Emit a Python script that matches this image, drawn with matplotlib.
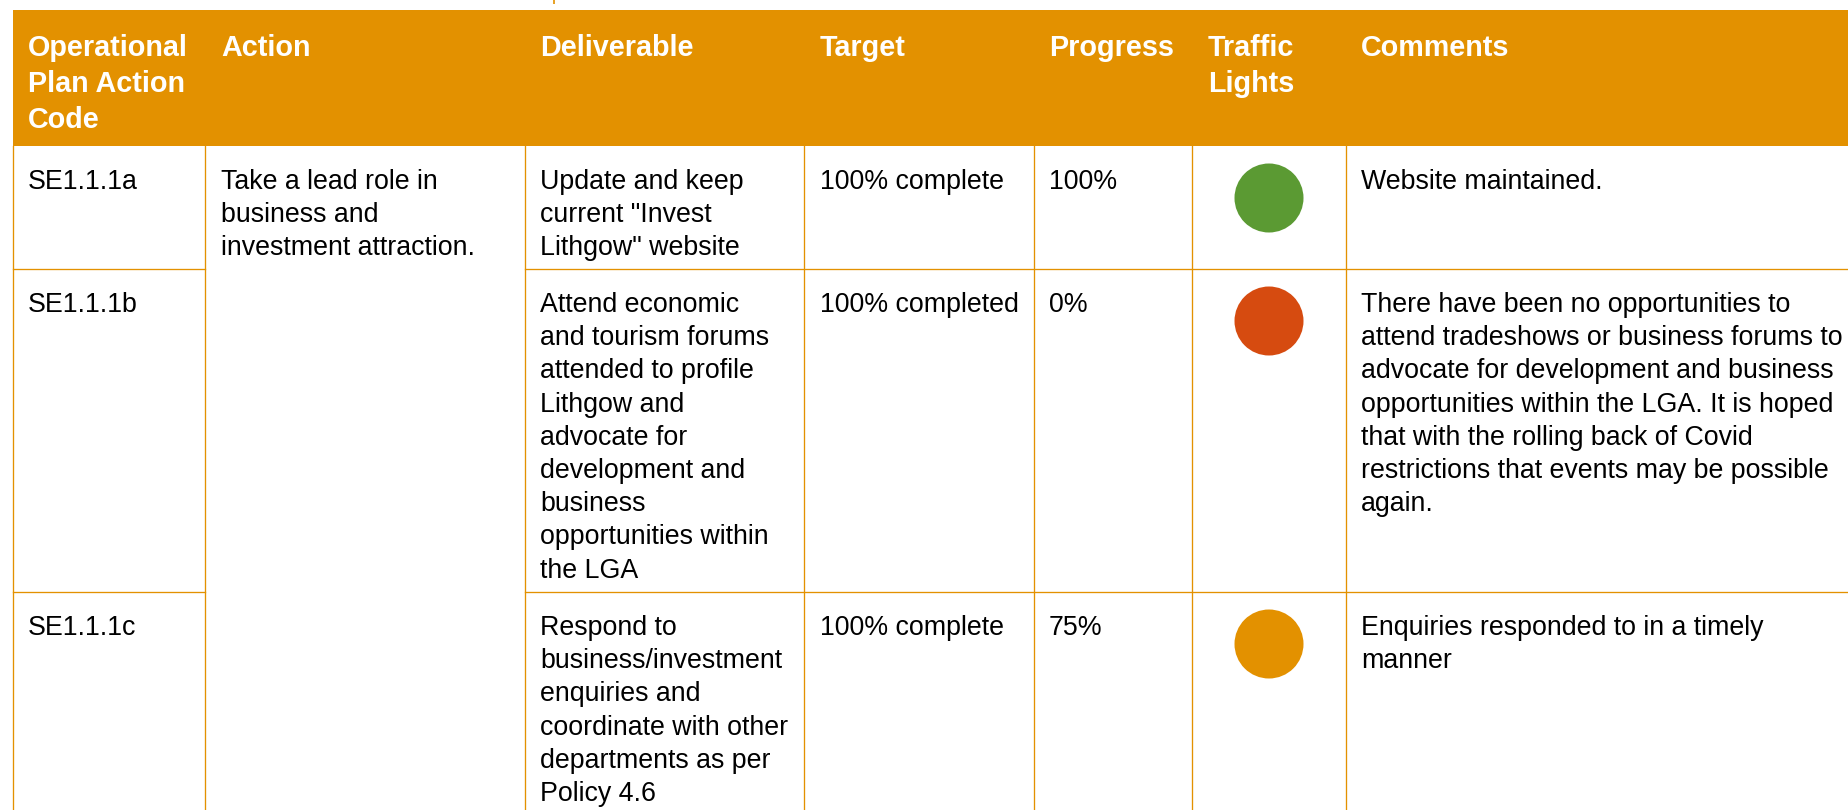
import matplotlib
matplotlib.use("Agg")
import matplotlib.pyplot as plt
from matplotlib.patches import Rectangle, Circle
from matplotlib import font_manager as fm

# ---------------- data ----------------
headers = [["Operational", "Plan Action", "Code"], ["Action"], ["Deliverable"],
           ["Target"], ["Progress"], ["Traffic", "Lights"], ["Comments"]]
codes = ["SE1.1.1a", "SE1.1.1b", "SE1.1.1c"]
action_lines = ["Take a lead role in", "business and", "investment attraction."]
deliverables = [
    ["Update and keep", "current \"Invest", "Lithgow\" website"],
    ["Attend economic", "and tourism forums", "attended to profile", "Lithgow and",
     "advocate for", "development and", "business", "opportunities within", "the LGA"],
    ["Respond to", "business/investment", "enquiries and", "coordinate with other",
     "departments as per", "Policy 4.6"],
]
targets = ["100% complete", "100% completed", "100% complete"]
progress = ["100%", "0%", "75%"]
lights = ["green", "red", "amber"]
comments = [
    ["Website maintained."],
    ["There have been no opportunities to", "attend tradeshows or business forums to",
     "advocate for development and business", "opportunities within the LGA. It is hoped",
     "that with the rolling back of Covid", "restrictions that events may be possible",
     "again."],
    ["Enquiries responded to in a timely", "manner"],
]

# ---------------- fonts ----------------
def find_font(bold):
    cands = []
    for f in fm.fontManager.ttflist:
        if "liberation sans" in f.name.lower() and "narrow" not in f.name.lower():
            isbold = f.weight in ("bold", 700) or (isinstance(f.weight, int) and f.weight >= 600)
            if isbold == bold and f.style == "normal":
                cands.append(f.fname)
    if not cands:
        import glob
        pat = "LiberationSans-Bold.ttf" if bold else "LiberationSans-Regular.ttf"
        cands = glob.glob("/usr/share/fonts/**/" + pat, recursive=True)
    return cands[0] if cands else None

reg_path = find_font(False)
bold_path = find_font(True)
BODY_PX = 26.8
HEAD_PX = 28.8
pt = lambda px: px * 72 / 100
body_fp = fm.FontProperties(fname=reg_path, size=pt(BODY_PX)) if reg_path else \
    fm.FontProperties(family="Liberation Sans", size=pt(BODY_PX))
head_fp = fm.FontProperties(fname=bold_path, size=pt(HEAD_PX)) if bold_path else \
    fm.FontProperties(family="Liberation Sans", weight="bold", size=pt(HEAD_PX))

# ---------------- style / layout ----------------
W, H = 1849, 810
ORANGE = "#E39100"
LIGHT_COLORS = {"green": "#5B9A33", "red": "#D64B10", "amber": "#E39100"}
col_edges = [13, 205, 525, 804, 1034, 1192, 1346, W]
text_x = [28, 221, 540, 820, 1049, 1208, 1361]
header_top, header_bot = 10, 146
row_tops = [146, 269, 592]
line_h = 33.2

fig = plt.figure(figsize=(W / 100, H / 100), dpi=100)
ax = fig.add_axes([0, 0, 1, 1])
ax.set_xlim(0, W)
ax.set_ylim(H, 0)
ax.axis("off")

# header band
ax.add_patch(Rectangle((col_edges[0], header_top), W - col_edges[0], header_bot - header_top,
                       facecolor=ORANGE, edgecolor="none", zorder=1))
# stray mark from the previous page at top
ax.plot([554, 554], [0, 4], color=ORANGE, lw=1.2, solid_capstyle="butt")

for j, hl in enumerate(headers):
    for i, s in enumerate(hl):
        ax.text(text_x[j], 56 + i * 36, s, color="white", fontproperties=head_fp,
                va="baseline", ha="left", zorder=3)

LW = 0.95
for x in col_edges[:-1]:
    ax.plot([x, x], [header_bot, H], color=ORANGE, lw=LW, zorder=2)
for y in row_tops[1:]:
    ax.plot([col_edges[0], col_edges[1]], [y, y], color=ORANGE, lw=LW, zorder=2)
    ax.plot([col_edges[2], W], [y, y], color=ORANGE, lw=LW, zorder=2)


def put(x, y0, lines):
    for i, s in enumerate(lines):
        ax.text(x, y0 + i * line_h, s, color="black", fontproperties=body_fp,
                va="baseline", ha="left", zorder=3)


for r, top in enumerate(row_tops):
    base = top + 43
    put(text_x[0], base, [codes[r]])
    put(text_x[2], base, deliverables[r])
    put(text_x[3], base, [targets[r]])
    put(text_x[4], base, [progress[r]])
    put(text_x[6], base, comments[r])
    ax.add_patch(Circle((1269, top + 52), 34.5, facecolor=LIGHT_COLORS[lights[r]],
                        edgecolor="none", zorder=3))

put(text_x[1], row_tops[0] + 43, action_lines)

fig.savefig("out.png", dpi=100, facecolor="white")
